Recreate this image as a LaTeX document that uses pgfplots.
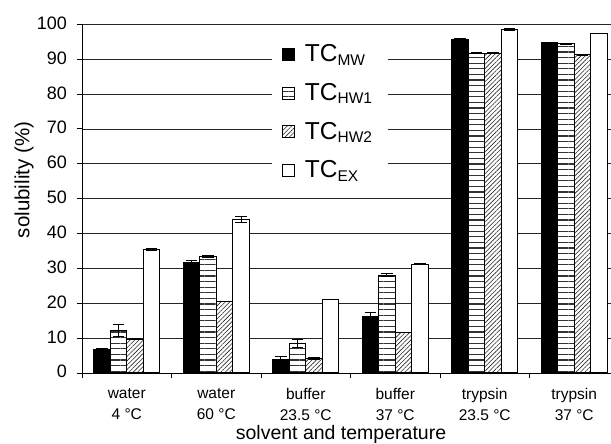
\documentclass[border=0pt]{standalone}
\usepackage{fontspec}
\setmainfont{Liberation Sans}
\usepackage{pgfplots}
\pgfplotsset{compat=1.18}
\usepackage{pgfplotstable}
\usetikzlibrary{patterns.meta}

% solubility (%) per solvent/temperature group, with error
\pgfplotstableread{
x y e
0 6.8 0.3
1 31.6 0.8
2 3.9 0.8
3 16.1 1.2
4 95.5 0.3
5 94.7 0.1
}\tcmw
\pgfplotstableread{
x y e
0 12.1 1.7
1 33.4 0.4
2 8.5 1.2
3 28.1 0.5
4 91.7 0.1
5 94.4 0.1
}\tchwone
\pgfplotstableread{
x y e
0 9.7 0.2
1 20.4 0.0
2 4.2 0.4
3 11.6 0.0
4 91.7 0.1
5 91.2 0.0
}\tchwtwo
\pgfplotstableread{
x y e
0 35.5 0.3
1 44.1 0.8
2 21.1 0.0
3 31.2 0.2
4 98.4 0.3
5 97.3 0.0
}\tcex

\newcommand{\sub}[1]{\raisebox{-3.3pt}{\fontsize{15.5}{15.5}\selectfont #1}}

\begin{document}
\begin{tikzpicture}
\begin{axis}[
  at={(82pt,71pt)}, anchor=south west,
  scale only axis, width=529pt, height=348.7pt,
  ybar, bar width=16.6pt,
  xmin=-0.5, xmax=5.411, ymin=0, ymax=100,
  axis lines*=left, axis line style={-, black, line width=0.9pt},
  tick align=outside, major tick length=5.5pt,
  tick style={black, line width=0.9pt},
  xtick={-0.5,0.5,...,4.5},
  xticklabels={{water\\4 °C},{water\\60 °C},{buffer\\23.5 °C},{buffer\\37 °C},{trypsin\\23.5 °C},{trypsin\\37 °C}},
  xticklabel style={anchor=north, inner sep=0pt, align=center, xshift=44.75pt, yshift=-9.5pt,
    font=\fontsize{15.5}{21}\selectfont},
  ytick={0,10,...,100},
  yticklabel style={anchor=east, inner sep=0pt, xshift=-9.3pt, yshift=1.2pt, font=\fontsize{18}{18}\selectfont},
  /pgf/number format/assume math mode=true,
  ymajorgrids, major grid style={black!85, line width=0.7pt},
  xlabel={solvent and temperature},
  xlabel style={at={(axis description cs:0.4896,-0.1907)}, anchor=base, inner sep=0pt, font=\fontsize{19.5}{24}\selectfont},
  ylabel={solubility (\%)},
  ylabel style={at={(axis description cs:-0.1096,0.5535)}, anchor=center, font=\fontsize{20.5}{24}\selectfont},
  error bars/y dir=both, error bars/y explicit,
  error bars/error bar style={black, line width=0.9pt},
  error bars/error mark options={black, line width=0.9pt, mark size=5.8pt, rotate=90},
  legend style={at={(axis description cs:0.3592,0.9951)}, anchor=north west,
    draw=none, fill=white, inner xsep=9.7pt, inner ysep=8.3pt,
    column sep=10pt, row sep=0pt,
    font=\fontsize{24.5}{24.5}\selectfont,
    cells={anchor=base west},
    nodes={inner sep=0pt, text height=27.4pt, text depth=11.2pt, text width=73.6pt}},
  legend image code/.code={\draw[#1] (0pt,1.3pt) rectangle (12pt,13.3pt);},
  every axis plot/.append style={draw=black, line width=1pt},
]
\addplot[fill=black, bar shift=-24.9pt] table[x=x, y=y, y error=e] {\tcmw};
\addplot[fill=white, bar shift=-8.3pt,
  postaction={pattern={Lines[angle=0, distance=5.6pt, line width=1.1pt]}, pattern color=black!80}]
  table[x=x, y=y, y error=e] {\tchwone};
\addplot[fill=white, bar shift=8.3pt,
  postaction={pattern={Lines[angle=45, distance=3.1pt, line width=0.6pt]}, pattern color=black!85}]
  table[x=x, y=y, y error=e] {\tchwtwo};
\addplot[fill=white, bar shift=24.9pt] table[x=x, y=y, y error=e] {\tcex};
\legend{TC\sub{MW}, TC\sub{HW1}, TC\sub{HW2}, TC\sub{EX}}
\end{axis}
\pgfresetboundingbox
\useasboundingbox (0pt,0pt) rectangle (611pt,444pt);
\end{tikzpicture}
\end{document}
